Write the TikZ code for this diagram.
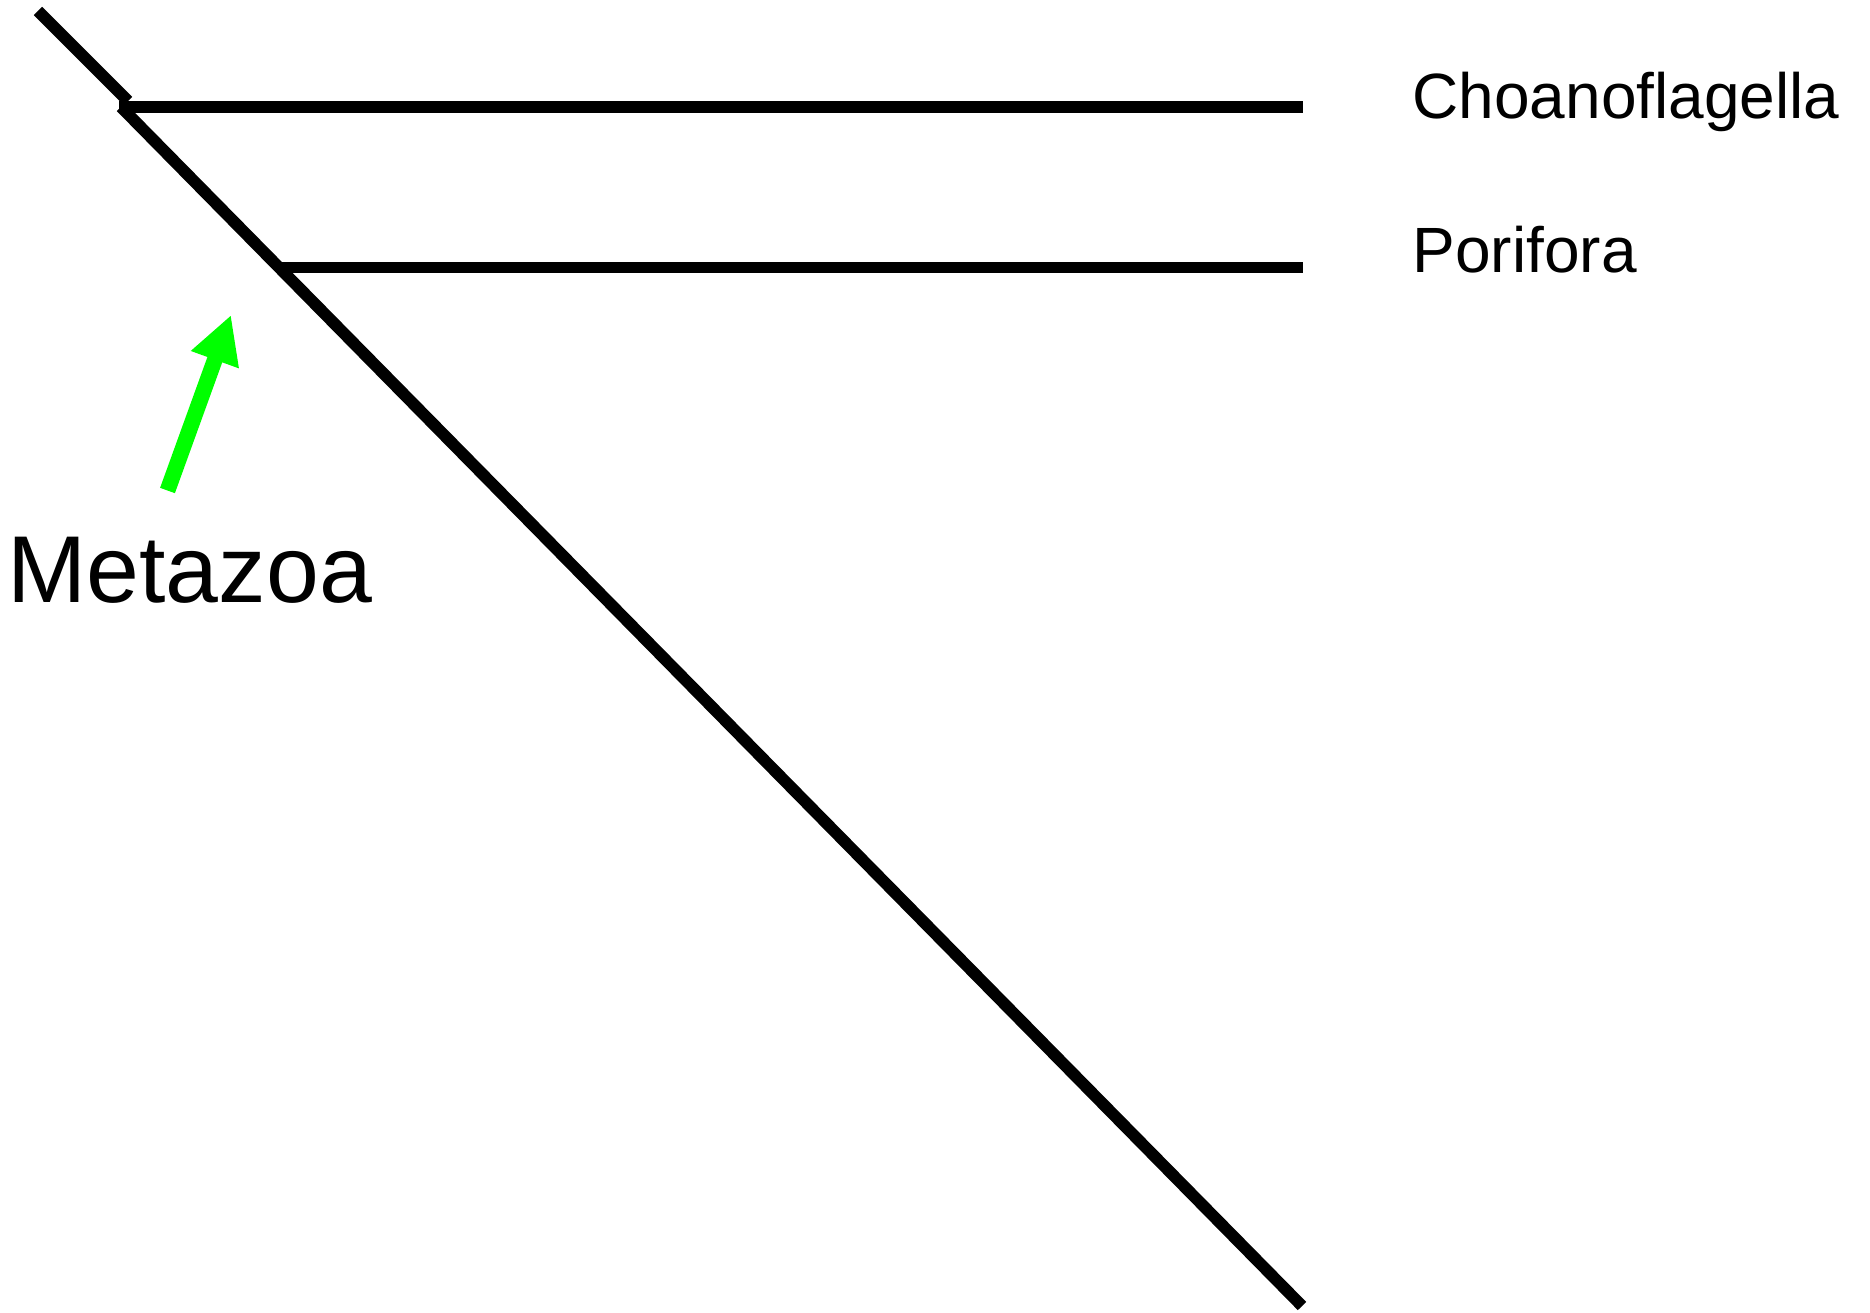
\documentclass[tikz,border=0pt]{standalone}
\usepackage{fontspec}
\setmainfont{Liberation Sans}
\usetikzlibrary{arrows.meta}
\tikzstyle{br}=[draw=black,line width=4.7pt,line cap=butt]
\tikzstyle{lbl}=[anchor=base west,inner sep=0pt,font=\fontsize{25.6}{30}\selectfont]
\tikzstyle{ptr}=[draw=green,line width=6.3pt,-{Triangle[length=19pt,width=19pt]}]

\begin{document}
\begin{tikzpicture}[x=0.4pt,y=-0.4pt]
\useasboundingbox (0,0) rectangle (1870,1312);
\coordinate (stem) at (38,11); \coordinate (knee) at (128,101);
\coordinate (root) at (121,107); \coordinate (fork) at (278,267.5); \coordinate (tip) at (1302,1306);
\coordinate (choR) at (1303,107); \coordinate (porR) at (1303,267.5);
\draw[br] (stem) -- (knee);
\draw[br] (root) -- (tip);
\draw[br] (119,107) -- (choR);
\draw[br] (fork) -- (porR);
\node[lbl] (cho) at (1412,118.5) {Choanoflagella};
\node[lbl] (por) at (1412,272) {Porifora};
\node[lbl,font=\fontsize{38}{46}\selectfont] (meta) at (7,602.7) {Metazoa};
\coordinate (mtail) at (167.5,490.5); \coordinate (mhead) at (231,315);
\draw[ptr] (mtail) -- (mhead);
\end{tikzpicture}
\end{document}
